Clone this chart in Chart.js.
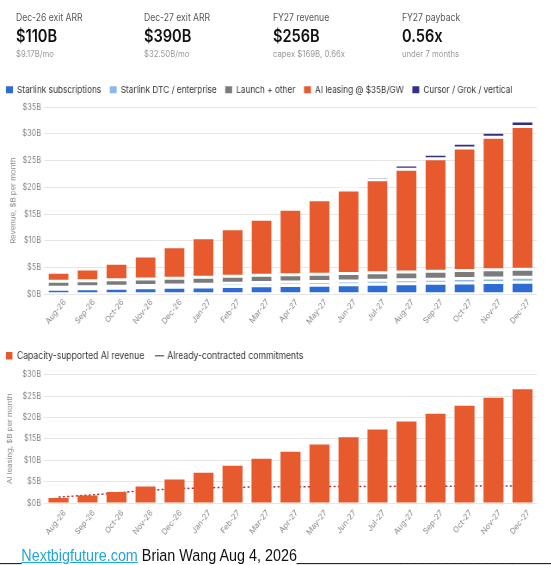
<!DOCTYPE html>
<html><head><meta charset="utf-8">
<script src="https://cdn.jsdelivr.net/npm/chart.js@4.4.1/dist/chart.umd.min.js"></script>
<style>
html,body{margin:0;padding:0;background:#fff;}
body{width:551px;height:565px;overflow:hidden;position:relative;}
#page{position:absolute;left:0;top:0;width:641px;height:565px;transform:scaleX(0.86);transform-origin:0 0;font-family:Inter,"Noto Sans",sans-serif;}
.kpi{position:absolute;top:10px;white-space:nowrap}
.kpi .l{font-size:10px;line-height:14px;color:#555}
.kpi .v{font-size:17px;line-height:22px;font-weight:600;color:#111;margin-top:1px}
.kpi .s{font-size:9px;line-height:12px;color:#999;margin-top:1px}
canvas{position:absolute;display:block}
#c1{left:-3px;top:75px}
#c2{left:-7px;top:337px}
#foot{position:absolute;left:-3px;top:546px;font-family:"Liberation Sans",Arial,sans-serif;font-size:16.7px;line-height:19px;white-space:nowrap;color:#111;width:644px;overflow:hidden}
#foot a{color:#22a4dc;text-decoration:underline}
</style></head><body>
<div id="page">
 <div class="kpi" style="left:18.6px"><div class="l">Dec-26 exit ARR</div><div class="v">$110B</div><div class="s">$9.17B/mo</div></div>
 <div class="kpi" style="left:167.4px"><div class="l">Dec-27 exit ARR</div><div class="v">$390B</div><div class="s">$32.50B/mo</div></div>
 <div class="kpi" style="left:317.4px"><div class="l">FY27 revenue</div><div class="v">$256B</div><div class="s">capex $169B, 0.66x</div></div>
 <div class="kpi" style="left:467.4px"><div class="l">FY27 payback</div><div class="v">0.56x</div><div class="s">under 7 months</div></div>
 <canvas id="c1" width="644" height="255"></canvas>
 <canvas id="c2" width="648" height="206"></canvas>
 <div id="foot">___<a href="#">Nextbigfuture.com</a> Brian Wang Aug 4, 2026________________________________________</div>
</div>
<script>
const months = ['Aug-26','Sep-26','Oct-26','Nov-26','Dec-26','Jan-27','Feb-27','Mar-27','Apr-27','May-27','Jun-27','Jul-27','Aug-27','Sep-27','Oct-27','Nov-27','Dec-27'];
const starlinkSubs = [0.95,1.02,1.12,1.22,1.30,1.38,1.48,1.60,1.66,1.70,1.80,1.88,1.96,2.05,2.12,2.20,2.27];
const starlinkDTC  = [0.35,0.38,0.40,0.42,0.45,0.52,0.57,0.62,0.65,0.68,0.70,0.73,0.75,0.78,0.82,0.86,0.90];
const launchOther  = [1.12,1.14,1.18,1.21,1.24,1.28,1.30,1.32,1.34,1.37,1.40,1.43,1.46,1.48,1.50,1.52,1.50];
const aiLeasing    = [1.70,2.20,3.10,4.30,5.90,7.40,8.90,10.50,12.25,13.90,15.60,17.35,19.20,21.00,22.90,24.75,26.70];
const cursorGrok   = [0.10,0.12,0.15,0.20,0.25,0.30,0.34,0.38,0.42,0.46,0.52,0.62,0.78,0.88,0.90,0.95,1.00];
const capacityAI   = [1.18,1.73,2.59,3.86,5.51,7.06,8.71,10.35,12.00,13.70,15.40,17.20,19.06,20.87,22.75,24.60,26.60];
const contracted   = [1.40,1.80,2.35,2.95,3.30,3.55,3.68,3.75,3.80,3.82,3.85,3.87,3.90,3.92,3.95,3.97,4.00];
const yTicksTop = [0,5,10,15,20,25,30,35];
const yTicksBottom = [0,5,10,15,20,25,30];

const COL = {blue:'#2d6cd3', light:'#8db9ea', gray:'#7b7b7b', orange:'#e65a2e', navy:'#312f86', line:'#a8343a'};
Chart.defaults.font.family = 'Inter, "Noto Sans", sans-serif';
Chart.defaults.color = '#888';

const tickFmt = v => '$' + v + 'B';
const segBorder = {top:1.5, bottom:1.5, left:0, right:0};

function xScale(h, pad){
  return {stacked:true, grid:{display:false, drawTicks:false}, border:{display:false},
    ticks:{autoSkip:false, minRotation:48, maxRotation:48, padding:pad, labelOffset:7, font:{size:8.5}, color:'#888'},
    afterFit(s){ s.height = h; }};
}
function yScale(max, ticks, title, w){
  return {stacked:true, min:0, max:max,
    afterBuildTicks(s){ s.ticks = ticks.map(v=>({value:v})); },
    ticks:{callback:tickFmt, padding:3.5, font:{size:8.5}, color:'#888'},
    grid:{color:'#e6e6e6', drawTicks:false, lineWidth:1}, border:{display:false},
    title:{display:true, text:title, font:{size:7.8}, color:'#888', padding:{top:14.3, bottom:0}},
    afterFit(s){ s.width = w; }};
}
function fixLegendHeight(chart, h){
  const lg = chart.legend;
  const orig = lg.fit.bind(lg);
  lg.fit = function(){ orig(); this.height = h; this.bottom = this.top + h; };
  chart.update();
}

const c1 = new Chart(document.getElementById('c1'), {
  type:'bar',
  data:{labels:months, datasets:[
    {label:'Starlink subscriptions', data:starlinkSubs, backgroundColor:COL.blue},
    {label:'Starlink DTC / enterprise', data:starlinkDTC, backgroundColor:COL.light},
    {label:'Launch + other', data:launchOther, backgroundColor:COL.gray},
    {label:'AI leasing @ $35B/GW', data:aiLeasing, backgroundColor:COL.orange},
    {label:'Cursor / Grok / vertical', data:cursorGrok, backgroundColor:COL.navy}
  ]},
  options:{
    responsive:false, animation:false,
    layout:{padding:{left:0, right:16.6, top:0, bottom:0}},
    datasets:{bar:{barPercentage:0.69, categoryPercentage:1, borderColor:'#fff', borderWidth:segBorder, borderSkipped:false}},
    plugins:{
      tooltip:{enabled:false},
      legend:{align:'start', labels:{boxWidth:8, boxHeight:7, padding:10, color:'#333', font:{size:9.6},
        generateLabels(chart){ const it = Chart.defaults.plugins.legend.labels.generateLabels(chart); it.forEach(i=>{i.lineWidth=0;}); return it; }}}
    },
    scales:{x:xScale(35.7, 3), y:yScale(35, yTicksTop, 'Revenue, $B per month', 54.2)}
  }
});
fixLegendHeight(c1, 32);

const c2 = new Chart(document.getElementById('c2'), {
  type:'bar',
  data:{labels:months, datasets:[
    {type:'bar', label:'Capacity-supported AI revenue', data:capacityAI, backgroundColor:COL.orange, order:1},
    {type:'line', label:'Already-contracted commitments', data:contracted, borderColor:COL.line, borderWidth:1.5, borderDash:[2.5,2.5], pointRadius:0, fill:false, tension:0, order:2}
  ]},
  options:{
    responsive:false, animation:false,
    layout:{padding:{left:0, right:16.6, top:0, bottom:0}},
    datasets:{bar:{barPercentage:0.69, categoryPercentage:1, borderWidth:0}},
    plugins:{
      tooltip:{enabled:false},
      legend:{align:'start', labels:{usePointStyle:true, boxWidth:8, boxHeight:7.5, padding:13.7, color:'#333', font:{size:10},
        generateLabels(chart){ const it = Chart.defaults.plugins.legend.labels.generateLabels(chart);
          it.forEach(i=>{ if(i.datasetIndex===1){ i.pointStyle='line'; i.strokeStyle='#8a6a6a'; } else { i.pointStyle='rect'; i.lineWidth=0; } }); return it; }}}
    },
    scales:{x:Object.assign(xScale(40, 5),{stacked:false}), y:Object.assign(yScale(30, yTicksBottom, 'AI leasing, $B per month', 58.2),{stacked:false})}
  }
});
fixLegendHeight(c2, 37.7);
</script>
</body></html>
